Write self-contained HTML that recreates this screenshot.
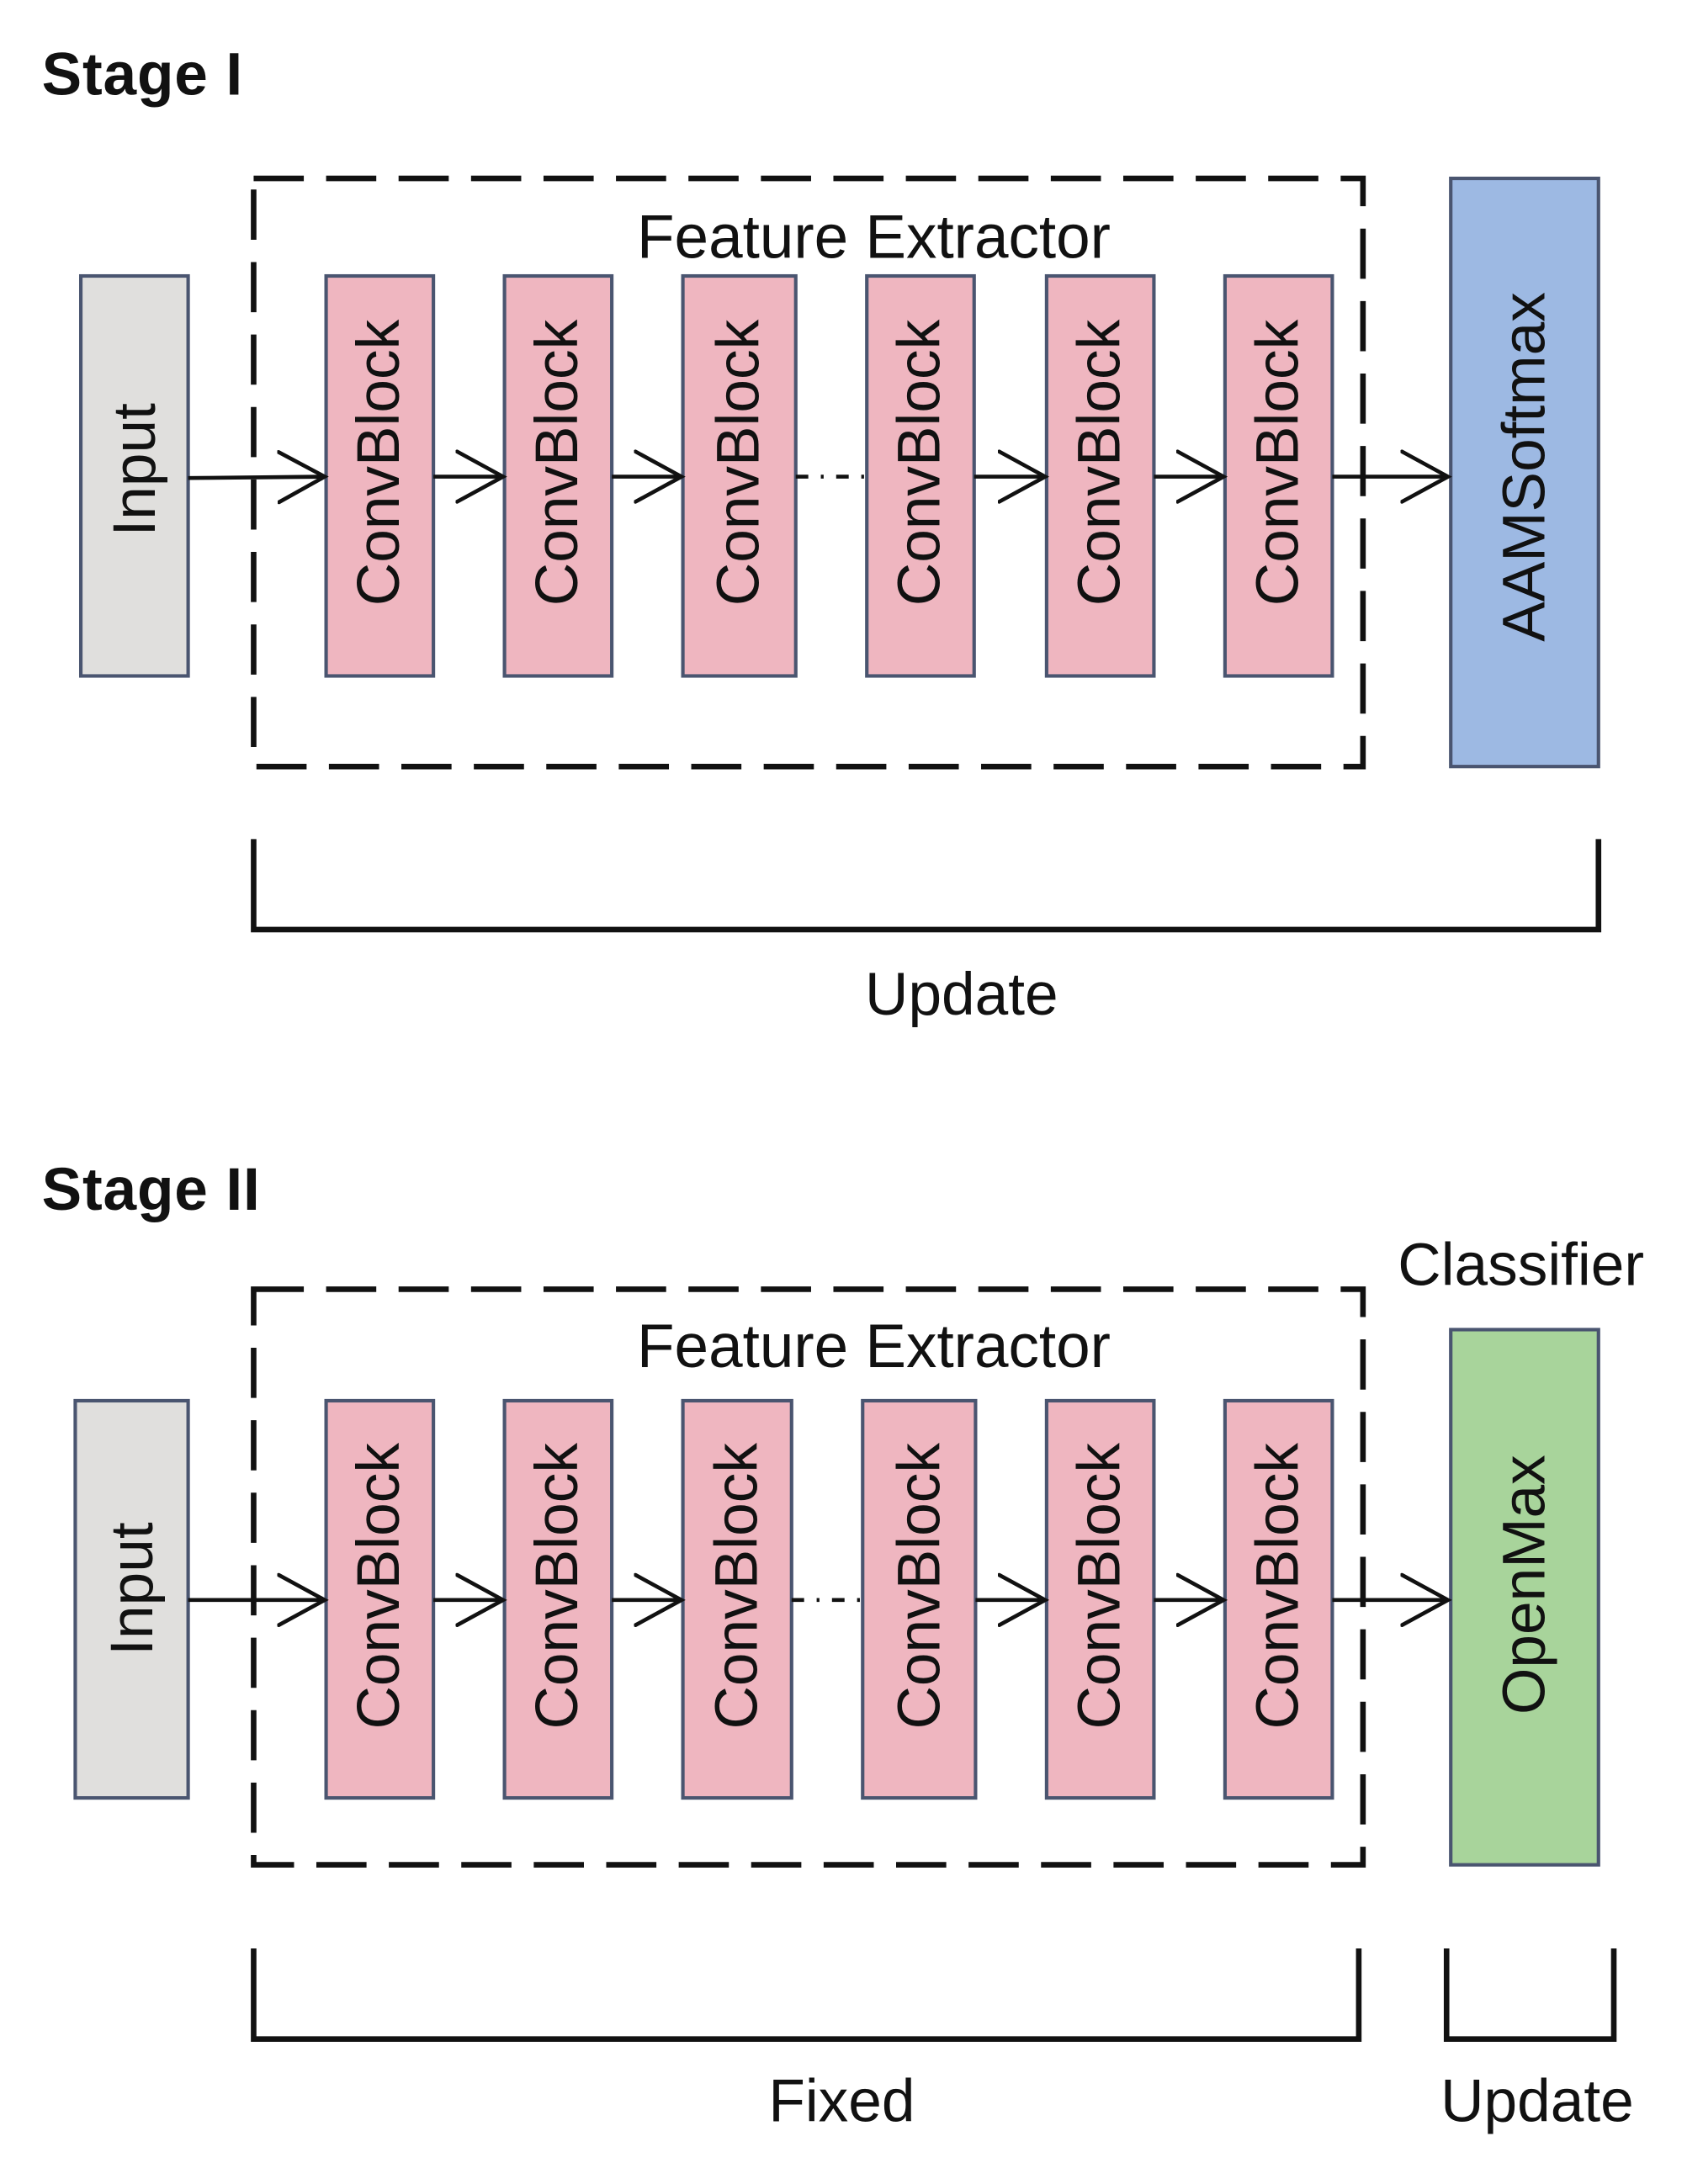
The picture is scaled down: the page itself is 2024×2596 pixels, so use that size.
<!DOCTYPE html>
<html><head><meta charset="utf-8"><style>
html,body{margin:0;padding:0;background:#fff}
svg{display:block}
text{font-family:"Liberation Sans",Arial,sans-serif;fill:#111}
</style></head><body>
<svg width="2024" height="2596" viewBox="0 0 1222 1567" xmlns="http://www.w3.org/2000/svg" preserveAspectRatio="none">
<defs>
<marker id="ah" markerWidth="40" markerHeight="44" refX="34" refY="20" markerUnits="userSpaceOnUse" orient="auto">
<path d="M1,2 L34,20 L1,38" fill="none" stroke="#111" stroke-width="2.8" stroke-linecap="round"/>
</marker>
</defs>

<!-- Stage I -->
<text x="30" y="68" font-size="43" font-weight="bold" letter-spacing="0.5">Stage I</text>
<rect x="182" y="128" width="796" height="422" fill="none" stroke="#111" stroke-width="4" stroke-dasharray="36,16"/>
<text x="627" y="185" font-size="44" text-anchor="middle">Feature Extractor</text>

<g stroke="#4a5570" stroke-width="2.5">
<rect x="58" y="198" width="77" height="287" fill="#e0dfdd"/>
<rect x="234" y="198" width="77" height="287" fill="#efb6c0"/>
<rect x="362" y="198" width="77" height="287" fill="#efb6c0"/>
<rect x="490" y="198" width="81" height="287" fill="#efb6c0"/>
<rect x="622" y="198" width="77" height="287" fill="#efb6c0"/>
<rect x="751" y="198" width="77" height="287" fill="#efb6c0"/>
<rect x="879" y="198" width="77" height="287" fill="#efb6c0"/>
<rect x="1041" y="128" width="106" height="422" fill="#9db9e3"/>
</g>
<g stroke="#111" stroke-width="2.8" fill="none">
<line x1="135" y1="343" x2="233" y2="342" marker-end="url(#ah)"/>
<line x1="311" y1="342" x2="361" y2="342" marker-end="url(#ah)"/>
<line x1="439" y1="342" x2="489" y2="342" marker-end="url(#ah)"/>
<line x1="571" y1="342" x2="622" y2="342" stroke-dasharray="9,9,2,9"/>
<line x1="699" y1="342" x2="750" y2="342" marker-end="url(#ah)"/>
<line x1="828" y1="342" x2="878" y2="342" marker-end="url(#ah)"/>
<line x1="956" y1="342" x2="1039" y2="342" marker-end="url(#ah)"/>
</g>
<g font-size="43" text-anchor="middle" dominant-baseline="central">
<text transform="translate(97,337) rotate(-90)">Input</text>
<text transform="translate(272,332) rotate(-90)">ConvBlock</text>
<text transform="translate(400,332) rotate(-90)">ConvBlock</text>
<text transform="translate(530,332) rotate(-90)">ConvBlock</text>
<text transform="translate(660,332) rotate(-90)">ConvBlock</text>
<text transform="translate(789,332) rotate(-90)">ConvBlock</text>
<text transform="translate(917,332) rotate(-90)">ConvBlock</text>
<text transform="translate(1094,335) rotate(-90)">AAMSoftmax</text>
</g>
<path d="M182,602 V667 H1147 V602" fill="none" stroke="#111" stroke-width="4"/>
<text x="690" y="728" font-size="43" text-anchor="middle">Update</text>

<!-- Stage II -->
<text x="30" y="868" font-size="43" font-weight="bold" letter-spacing="0.5">Stage II</text>
<text x="1003" y="922" font-size="43">Classifier</text>
<rect x="182" y="925" width="796" height="413" fill="none" stroke="#111" stroke-width="4" stroke-dasharray="36,16"/>
<text x="627" y="981" font-size="44" text-anchor="middle">Feature Extractor</text>
<g stroke="#4a5570" stroke-width="2.5">
<rect x="54" y="1005" width="81" height="285" fill="#e0dfdd"/>
<rect x="234" y="1005" width="77" height="285" fill="#efb6c0"/>
<rect x="362" y="1005" width="77" height="285" fill="#efb6c0"/>
<rect x="490" y="1005" width="78" height="285" fill="#efb6c0"/>
<rect x="619" y="1005" width="81" height="285" fill="#efb6c0"/>
<rect x="751" y="1005" width="77" height="285" fill="#efb6c0"/>
<rect x="879" y="1005" width="77" height="285" fill="#efb6c0"/>
<rect x="1041" y="954" width="106" height="384" fill="#a8d49b"/>
</g>
<g stroke="#111" stroke-width="2.8" fill="none">
<line x1="135" y1="1148" x2="233" y2="1148" marker-end="url(#ah)"/>
<line x1="311" y1="1148" x2="361" y2="1148" marker-end="url(#ah)"/>
<line x1="439" y1="1148" x2="489" y2="1148" marker-end="url(#ah)"/>
<line x1="568" y1="1148" x2="619" y2="1148" stroke-dasharray="9,9,2,9"/>
<line x1="700" y1="1148" x2="750" y2="1148" marker-end="url(#ah)"/>
<line x1="828" y1="1148" x2="878" y2="1148" marker-end="url(#ah)"/>
<line x1="956" y1="1148" x2="1039" y2="1148" marker-end="url(#ah)"/>
</g>
<g font-size="43" text-anchor="middle" dominant-baseline="central">
<text transform="translate(95,1140) rotate(-90)">Input</text>
<text transform="translate(272,1138) rotate(-90)">ConvBlock</text>
<text transform="translate(400,1138) rotate(-90)">ConvBlock</text>
<text transform="translate(529,1138) rotate(-90)">ConvBlock</text>
<text transform="translate(660,1138) rotate(-90)">ConvBlock</text>
<text transform="translate(789,1138) rotate(-90)">ConvBlock</text>
<text transform="translate(917,1138) rotate(-90)">ConvBlock</text>
<text transform="translate(1094,1137) rotate(-90)">OpenMax</text>
</g>
<path d="M182,1398 V1463 H975 V1398" fill="none" stroke="#111" stroke-width="4"/>
<path d="M1038,1398 V1463 H1158 V1398" fill="none" stroke="#111" stroke-width="4"/>
<text x="604" y="1522" font-size="43" text-anchor="middle">Fixed</text>
<text x="1103" y="1522" font-size="43" text-anchor="middle">Update</text>
</svg>
</body></html>
